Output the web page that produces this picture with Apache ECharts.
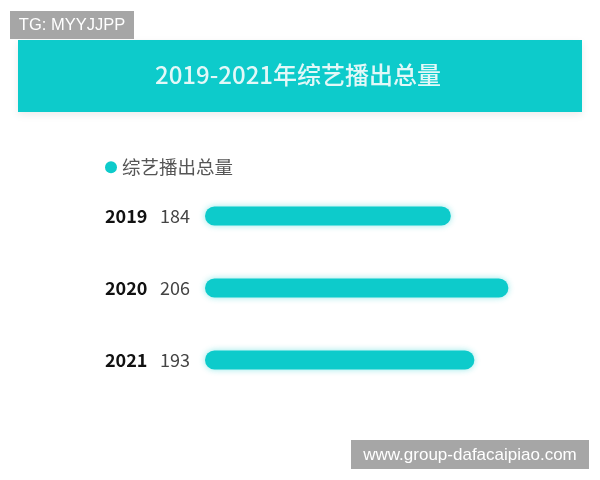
<!DOCTYPE html>
<html>
<head>
<meta charset="utf-8">
<script src="https://cdn.jsdelivr.net/npm/echarts@6/dist/echarts.min.js"></script>
<style>
  html, body { margin: 0; padding: 0; background: #fff; }
  #main { width: 600px; height: 480px; }
</style>
</head>
<body>
<div id="main"></div>
<script>
const years = ['2019', '2020', '2021']
const totals = [184, 206, 193]
const seriesName = '综艺播出总量'
const titleText = '2019-2021年综艺播出总量'

const font = '"Noto Sans CJK SC", "Noto Sans", sans-serif'
const teal = '#0dcbcb'

let chart = echarts.init(document.getElementById('main'))

chart.setOption({
    backgroundColor: '#fff',
    textStyle: { fontFamily: font },
    graphic: [
        {
            type: 'rect',
            shape: { x: 18, y: 40, width: 564, height: 72 },
            style: { fill: teal, shadowBlur: 8, shadowOffsetY: 3, shadowColor: 'rgba(0,0,0,0.08)' },
            z: 0
        },
        {
            type: 'group',
            left: 10,
            top: 11,
            children: [
                { type: 'rect', shape: { width: 124, height: 28 }, style: { fill: '#a6a6a6' } },
                {
                    type: 'text', x: 62, y: 14,
                    style: { text: 'TG: MYYJJPP', fill: '#fff', font: '16.5px "Liberation Sans", sans-serif', align: 'center', verticalAlign: 'middle' }
                }
            ]
        },
        {
            type: 'group',
            left: 351,
            top: 440,
            children: [
                { type: 'rect', shape: { width: 238, height: 29 }, style: { fill: '#a6a6a6' } },
                {
                    type: 'text', x: 119, y: 15,
                    style: { text: 'www.group-dafacaipiao.com', fill: '#fff', font: '17px "Liberation Sans", sans-serif', align: 'center', verticalAlign: 'middle' }
                }
            ]
        }
    ],
    title: {
        text: titleText,
        left: 150,
        top: 58,
        textStyle: { color: '#e3f8f8', fontSize: 24, fontWeight: 500, fontFamily: font }
    },
    legend: {
        data: [seriesName],
        left: 100,
        top: 153,
        icon: 'circle',
        itemWidth: 12,
        itemHeight: 12,
        itemGap: 6,
        textStyle: { color: '#555', fontSize: 18.5, fontFamily: font }
    },
    grid: { left: 205, right: 55, top: 180, bottom: 84, containLabel: false },
    xAxis: {
        type: 'value',
        min: 90,
        max: 220,
        show: false
    },
    yAxis: {
        type: 'category',
        data: years,
        inverse: true,
        axisLine: { show: false },
        axisTick: { show: false },
        axisLabel: {
            margin: 13,
            formatter: (value, idx) => '{y|' + value + '}{v|' + totals[idx] + '}',
            rich: {
                y: { fontSize: 18, fontWeight: 'bold', color: '#111', width: 55, align: 'left', fontFamily: font },
                v: { fontSize: 18, color: '#444', width: 32, align: 'left', fontFamily: font }
            }
        }
    },
    series: [
        {
            name: seriesName,
            type: 'bar',
            data: totals,
            barWidth: 19,
            itemStyle: {
                color: teal,
                borderRadius: 10,
                shadowBlur: 6,
                shadowColor: 'rgba(13,203,203,0.45)'
            }
        }
    ],
    animation: false
})
</script>
</body>
</html>
